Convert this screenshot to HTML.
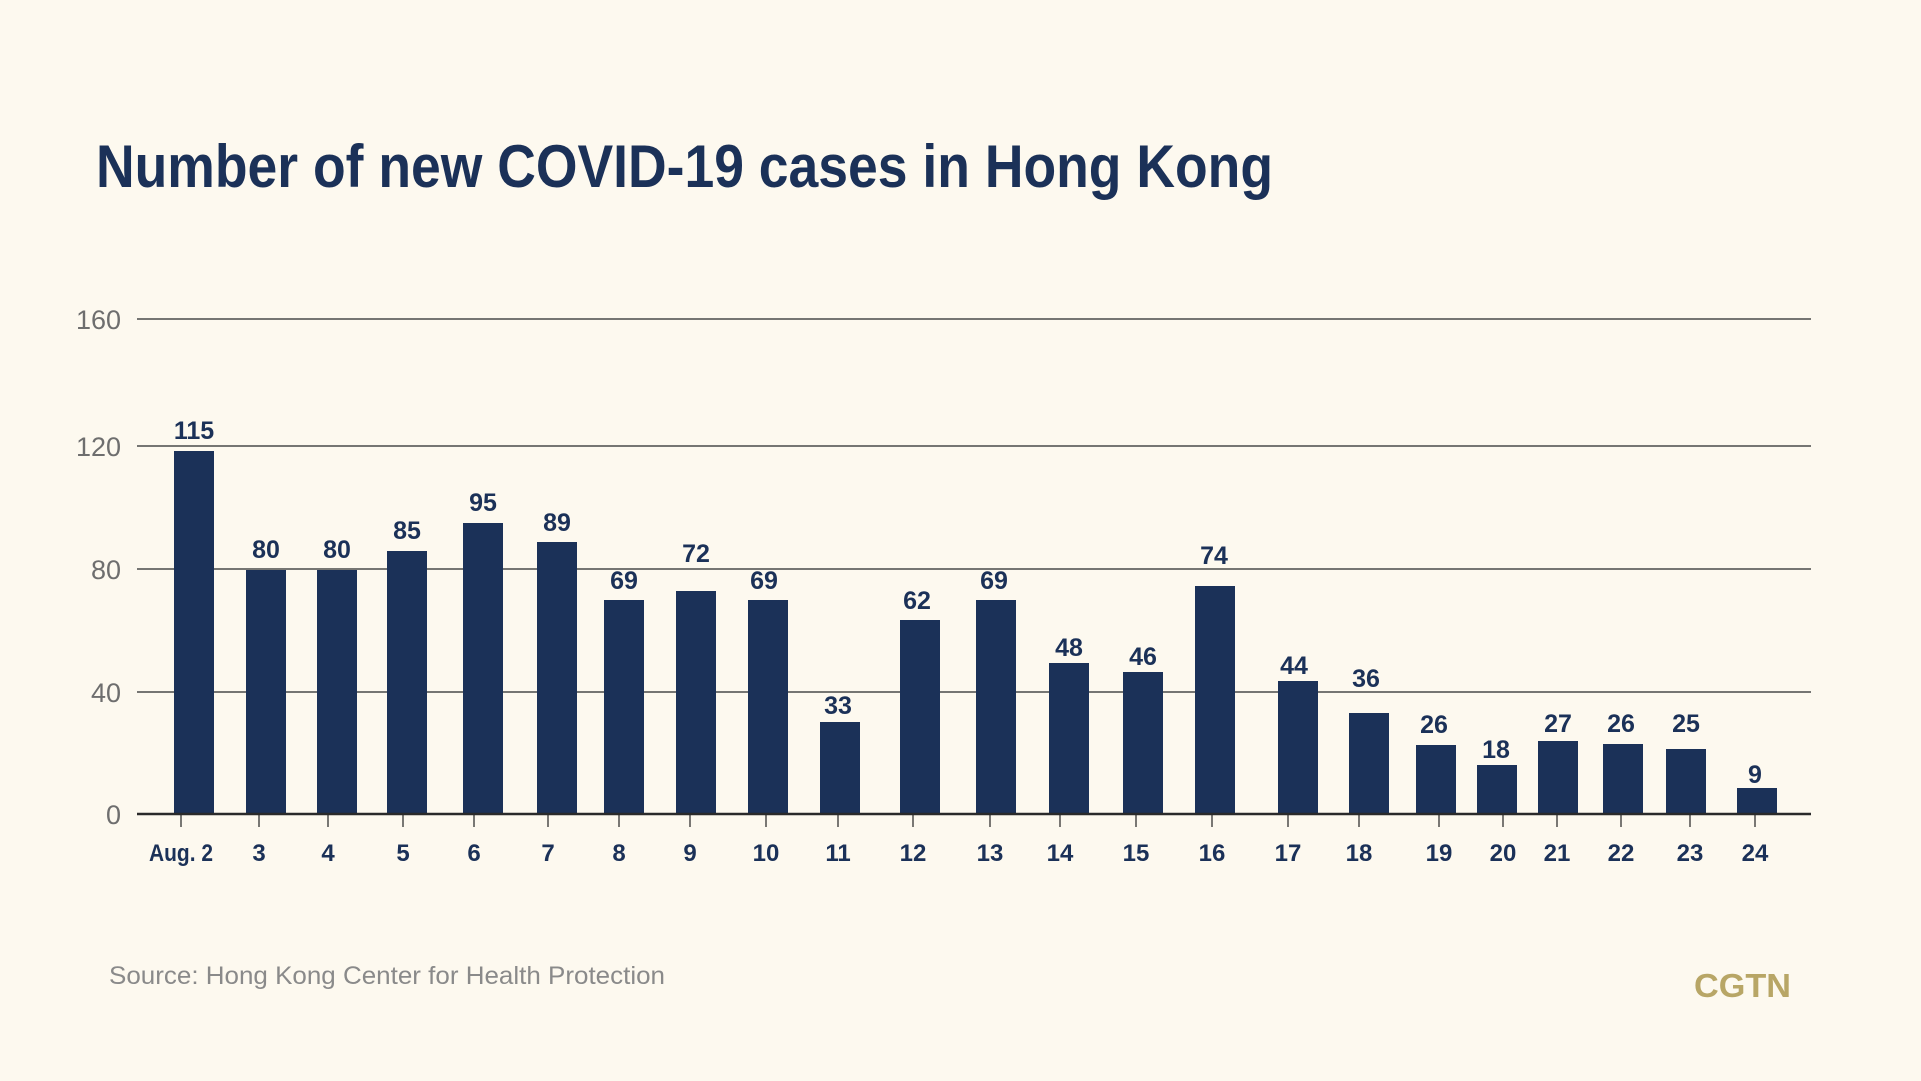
<!DOCTYPE html>
<html><head><meta charset="utf-8"><style>
html,body{margin:0;padding:0;background:#fdf9ef;}
svg{display:block}
</style></head><body>
<svg width="1921" height="1081" viewBox="0 0 1921 1081" xmlns="http://www.w3.org/2000/svg" font-family="Liberation Sans, sans-serif">
<rect width="1921" height="1081" fill="#fdf9ef"/>
<text x="96" y="187" font-size="60" font-weight="bold" fill="#1b3158" textLength="1177" lengthAdjust="spacingAndGlyphs">Number of new COVID-19 cases in Hong Kong</text>
<g stroke="#4a4a4a" stroke-width="1.5">
<line x1="137" y1="319" x2="1811" y2="319"/>
<line x1="137" y1="446" x2="1811" y2="446"/>
<line x1="137" y1="569" x2="1811" y2="569"/>
<line x1="137" y1="692" x2="1811" y2="692"/>
</g>
<g font-size="27" fill="#6e6e6e" text-anchor="end">
<text x="121" y="329">160</text>
<text x="121" y="456">120</text>
<text x="121" y="579">80</text>
<text x="121" y="702">40</text>
<text x="121" y="824">0</text>
</g>
<g fill="#1b3158">
<rect x="174" y="451" width="40" height="363"/>
<rect x="246" y="570" width="40" height="244"/>
<rect x="317" y="570" width="40" height="244"/>
<rect x="387" y="551" width="40" height="263"/>
<rect x="463" y="523" width="40" height="291"/>
<rect x="537" y="542" width="40" height="272"/>
<rect x="604" y="600" width="40" height="214"/>
<rect x="676" y="591" width="40" height="223"/>
<rect x="748" y="600" width="40" height="214"/>
<rect x="820" y="722" width="40" height="92"/>
<rect x="900" y="620" width="40" height="194"/>
<rect x="976" y="600" width="40" height="214"/>
<rect x="1049" y="663" width="40" height="151"/>
<rect x="1123" y="672" width="40" height="142"/>
<rect x="1195" y="586" width="40" height="228"/>
<rect x="1278" y="681" width="40" height="133"/>
<rect x="1349" y="713" width="40" height="101"/>
<rect x="1416" y="745" width="40" height="69"/>
<rect x="1477" y="765" width="40" height="49"/>
<rect x="1538" y="741" width="40" height="73"/>
<rect x="1603" y="744" width="40" height="70"/>
<rect x="1666" y="749" width="40" height="65"/>
<rect x="1737" y="788" width="40" height="26"/>
</g>
<line x1="137" y1="814" x2="1811" y2="814" stroke="#2a2a2a" stroke-width="2.5"/>
<g font-size="25" font-weight="bold" fill="#1b3158" text-anchor="middle">
<text x="194" y="439">115</text>
<text x="266" y="558">80</text>
<text x="337" y="558">80</text>
<text x="407" y="539">85</text>
<text x="483" y="511">95</text>
<text x="557" y="531">89</text>
<text x="624" y="589">69</text>
<text x="696" y="562">72</text>
<text x="764" y="589">69</text>
<text x="838" y="714">33</text>
<text x="917" y="609">62</text>
<text x="994" y="589">69</text>
<text x="1069" y="656">48</text>
<text x="1143" y="665">46</text>
<text x="1214" y="564">74</text>
<text x="1294" y="674">44</text>
<text x="1366" y="687">36</text>
<text x="1434" y="733">26</text>
<text x="1496" y="758">18</text>
<text x="1558" y="732">27</text>
<text x="1621" y="732">26</text>
<text x="1686" y="732">25</text>
<text x="1755" y="783">9</text>
</g>
<g stroke="#222" stroke-width="1.2">
<line x1="181" y1="815" x2="181" y2="827"/><line x1="259" y1="815" x2="259" y2="827"/>
<line x1="328" y1="815" x2="328" y2="827"/><line x1="403" y1="815" x2="403" y2="827"/>
<line x1="474" y1="815" x2="474" y2="827"/><line x1="548" y1="815" x2="548" y2="827"/>
<line x1="619" y1="815" x2="619" y2="827"/><line x1="690" y1="815" x2="690" y2="827"/>
<line x1="766" y1="815" x2="766" y2="827"/><line x1="838" y1="815" x2="838" y2="827"/>
<line x1="913" y1="815" x2="913" y2="827"/><line x1="990" y1="815" x2="990" y2="827"/>
<line x1="1060" y1="815" x2="1060" y2="827"/><line x1="1136" y1="815" x2="1136" y2="827"/>
<line x1="1212" y1="815" x2="1212" y2="827"/><line x1="1288" y1="815" x2="1288" y2="827"/>
<line x1="1359" y1="815" x2="1359" y2="827"/><line x1="1439" y1="815" x2="1439" y2="827"/>
<line x1="1503" y1="815" x2="1503" y2="827"/><line x1="1557" y1="815" x2="1557" y2="827"/>
<line x1="1621" y1="815" x2="1621" y2="827"/><line x1="1690" y1="815" x2="1690" y2="827"/>
<line x1="1755" y1="815" x2="1755" y2="827"/>
</g>
<g font-size="24" font-weight="bold" fill="#1b3158" text-anchor="middle">
<text x="181" y="861" textLength="64" lengthAdjust="spacingAndGlyphs">Aug. 2</text>
<text x="259" y="861">3</text><text x="328" y="861">4</text><text x="403" y="861">5</text>
<text x="474" y="861">6</text><text x="548" y="861">7</text><text x="619" y="861">8</text>
<text x="690" y="861">9</text><text x="766" y="861">10</text><text x="838" y="861">11</text>
<text x="913" y="861">12</text><text x="990" y="861">13</text><text x="1060" y="861">14</text>
<text x="1136" y="861">15</text><text x="1212" y="861">16</text><text x="1288" y="861">17</text>
<text x="1359" y="861">18</text><text x="1439" y="861">19</text><text x="1503" y="861">20</text>
<text x="1557" y="861">21</text><text x="1621" y="861">22</text><text x="1690" y="861">23</text>
<text x="1755" y="861">24</text>
</g>
<text x="109" y="984" font-size="25" fill="#8a8a8a" textLength="556" lengthAdjust="spacingAndGlyphs">Source: Hong Kong Center for Health Protection</text>
<text x="1694" y="997" font-size="33" font-weight="bold" fill="#b8a666" textLength="97" lengthAdjust="spacingAndGlyphs">CGTN</text>
</svg>
</body></html>
